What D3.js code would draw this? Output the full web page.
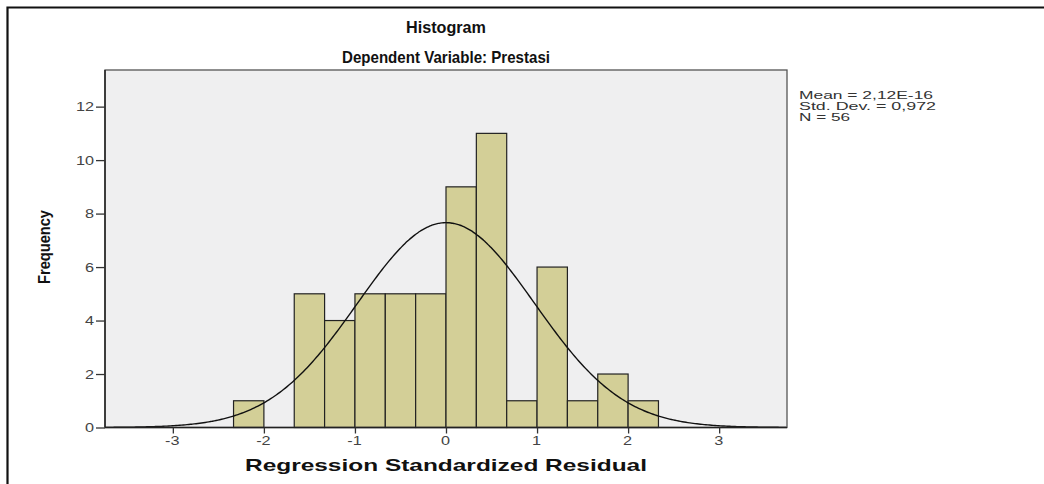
<!DOCTYPE html>
<html><head><meta charset="utf-8">
<script src="https://cdn.jsdelivr.net/npm/d3@7"></script>
<style>body{margin:0;background:#fff}svg{display:block}</style>
</head><body>
<script>
const binStarts = [-7/3, -5/3, -4/3, -1, -2/3, -1/3, 0, 1/3, 2/3, 1, 4/3, 5/3, 2];
const frequencies = [1, 5, 4, 5, 5, 5, 9, 11, 1, 6, 1, 2, 1];
const binWidth = 1/3;
const xTicks = [-3, -2, -1, 0, 1, 2, 3];
const yTicks = [0, 2, 4, 6, 8, 10, 12];
const statLines = ["Mean = 2,12E-16", "Std. Dev. = 0,972", "N = 56"];
const meanVal = 0, sdVal = 0.972, nVal = 56;

const W = 1044, H = 484;
const FONT = "Liberation Sans, Arial, sans-serif";
const svg = d3.select("body").append("svg").attr("width", W).attr("height", H);
const L = 105, R = 787, T = 70, B = 427.5;
const x = d3.scaleLinear().domain([-3.745, 3.745]).range([L, R]);
const y = d3.scaleLinear().domain([0, 13.37]).range([B, T]);

// outer frame
svg.append("path").attr("d", `M7.5,${H} V7.5 H${W}`).attr("fill", "none").attr("stroke", "#111").attr("stroke-width", 2.2);

// plot bg
svg.append("rect").attr("x", L).attr("y", T).attr("width", R - L).attr("height", B - T).attr("fill", "#efeff0");

// bars
svg.append("g").selectAll("rect").data(binStarts).join("rect")
  .attr("x", d => x(d)).attr("width", d => x(d + binWidth) - x(d))
  .attr("y", (d, i) => y(frequencies[i])).attr("height", (d, i) => y(0) - y(frequencies[i]))
  .attr("fill", "#d3cf97").attr("stroke", "#222").attr("stroke-width", 1.2);

// normal curve
const pdf = v => Math.exp(-0.5 * ((v - meanVal) / sdVal) ** 2) / (sdVal * Math.sqrt(2 * Math.PI));
const xs = d3.range(-3.745, 3.7451, 0.02);
svg.append("path").datum(xs)
  .attr("d", d3.line().x(v => x(v)).y(v => y(nVal * binWidth * pdf(v))).curve(d3.curveBasis))
  .attr("fill", "none").attr("stroke", "#111").attr("stroke-width", 1.4);

// plot border
svg.append("rect").attr("x", L).attr("y", T).attr("width", R - L).attr("height", B - T)
  .attr("fill", "none").attr("stroke", "#555").attr("stroke-width", 1.3);

// axes
const fmt = d => String(d);
const yAxis = svg.append("g").attr("transform", `translate(${L},0)`)
  .call(d3.axisLeft(y).tickValues(yTicks).tickSize(9).tickFormat(fmt));
const xAxis = svg.append("g").attr("transform", `translate(0,${B})`)
  .call(d3.axisBottom(x).tickValues(xTicks).tickSize(6).tickFormat(fmt));
[yAxis, xAxis].forEach(g => {
  g.select(".domain").attr("stroke", "#222").attr("stroke-width", 1.5);
  g.selectAll(".tick line").attr("stroke", "#333").attr("stroke-width", 1.3);
  g.selectAll(".tick text").attr("fill", "#444").attr("font-family", FONT).attr("font-size", 12.5);
});
yAxis.selectAll(".tick text").attr("x", 0).attr("transform", "translate(-11,0) scale(1.3,1)");
xAxis.selectAll(".tick text").attr("y", 0).attr("transform", "translate(-1,9) scale(1.3,1)");
yAxis.select(".domain").attr("d", `M0,${T}V${B}`);
xAxis.select(".domain").attr("d", `M${L},0H${R}`);

// titles
function title(txt, cx, cy, size, len) {
  const t = svg.append("text").attr("x", cx).attr("y", cy).attr("text-anchor", "middle")
    .attr("font-family", FONT).attr("font-size", size).attr("font-weight", "bold").attr("fill", "#111").text(txt);
  if (len) t.attr("textLength", len).attr("lengthAdjust", "spacingAndGlyphs");
}
title("Histogram", 446, 33, 16.5, 80);
title("Dependent Variable: Prestasi", 446, 63, 16.5, 208);
title("Regression Standardized Residual", 446, 471, 17, 402);
svg.append("text").attr("transform", "translate(50,247) rotate(-90)").attr("text-anchor", "middle")
  .attr("font-family", FONT).attr("font-size", 17).attr("font-weight", "bold").attr("fill", "#111")
  .attr("textLength", 74).attr("lengthAdjust", "spacingAndGlyphs").text("Frequency");

// stats
const statLens = [134, 137, 51];
svg.append("g").selectAll("text").data(statLines).join("text")
  .attr("x", 799).attr("y", (d, i) => 99 + i * 11)
  .attr("font-family", FONT).attr("font-size", 11).attr("fill", "#333")
  .attr("textLength", (d, i) => statLens[i]).attr("lengthAdjust", "spacingAndGlyphs").text(d => d);
</script>
</body></html>
